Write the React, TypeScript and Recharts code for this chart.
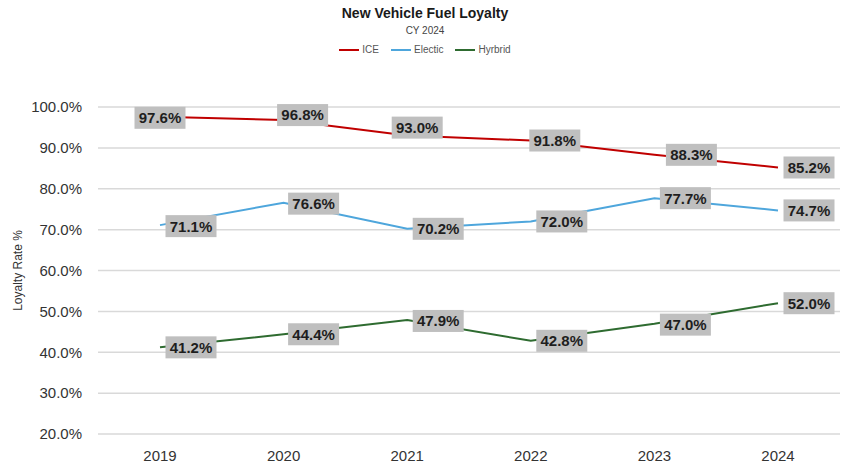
import React from 'react';
import {
  ComposedChart,
  Line,
  XAxis,
  YAxis,
  CartesianGrid,
  LabelList,
} from 'recharts';

const years = ['2019', '2020', '2021', '2022', '2023', '2024'];
const iceValues = [97.6, 96.8, 93.0, 91.8, 88.3, 85.2];
const electricValues = [71.1, 76.6, 70.2, 72.0, 77.7, 74.7];
const hybridValues = [41.2, 44.4, 47.9, 42.8, 47.0, 52.0];
const yTicks = [20, 30, 40, 50, 60, 70, 80, 90, 100];

// label box centre offsets from each point (Excel moved a few by hand)
const iceLabelOffsets = [[0, 1], [19, -5], [10, -8], [24, 0], [37, 0], [31, 0]];
const electricLabelOffsets = [[31, 1], [30, 1], [31, 0], [31, 0], [31, 0], [31, 0]];
const hybridLabelOffsets = [[31, 0], [30, 0], [31, 1], [31, 0], [31, 1], [31, 0]];

const series = [
  { key: 'ice', name: 'ICE', color: '#c00000', offsets: iceLabelOffsets },
  { key: 'electric', name: 'Electic', color: '#4ea6dc', offsets: electricLabelOffsets },
  { key: 'hybrid', name: 'Hyrbrid', color: '#2e6b30', offsets: hybridLabelOffsets },
];

const data = years.map((year, i) => ({
  year,
  ice: iceValues[i],
  electric: electricValues[i],
  hybrid: hybridValues[i],
}));

const font = '"Liberation Sans", Arial, sans-serif';

const makeLabel = (offsets: number[][]) => (props: any) => {
  const { x, y, value, index } = props;
  if (x == null || y == null) return null;
  const [dx, dy] = offsets[index] || [31, 0];
  const cx = x + dx;
  const cy = y + dy;
  const w = 51;
  const h = 22;
  return (
    <g>
      <rect x={cx - w / 2} y={cy - h / 2} width={w} height={h} fill="#bfbfbf" />
      <text
        x={cx}
        y={cy}
        dy="0.36em"
        textAnchor="middle"
        fontSize={15}
        fontWeight="bold"
        fill="#1e1e1e"
        fontFamily={font}
      >
        {`${Number(value).toFixed(1)}%`}
      </text>
    </g>
  );
};

export default function App() {
  return (
    <div style={{ position: 'absolute', left: 0, top: 0, width: 850, height: 467, background: '#fff', fontFamily: font }}>
      <div style={{ position: 'absolute', left: 0, width: 850, top: 5, textAlign: 'center', fontSize: 14, fontWeight: 'bold', color: '#1a1a1a' }}>
        New Vehicle Fuel Loyalty
      </div>
      <div style={{ position: 'absolute', left: 0, width: 850, top: 25, textAlign: 'center', fontSize: 10, color: '#444' }}>
        CY 2024
      </div>
      <div style={{ position: 'absolute', left: 0, width: 850, top: 44, display: 'flex', justifyContent: 'center', gap: 12, fontSize: 10, color: '#555' }}>
        {series.map((s) => (
          <div key={s.key} style={{ display: 'flex', alignItems: 'center', gap: 3 }}>
            <div style={{ width: 20, height: 2, background: s.color }} />
            <span>{s.name}</span>
          </div>
        ))}
      </div>
      <ComposedChart
        width={850}
        height={467}
        data={data}
        margin={{ top: 107, right: 10, left: 18, bottom: 3 }}
        style={{ position: 'absolute', left: 0, top: 0 }}
      >
        <CartesianGrid vertical={false} stroke="#d9d9d9" strokeWidth={1.5} />
        <XAxis
          dataKey="year"
          axisLine={false}
          tickLine={false}
          tickMargin={10}
          height={30}
          padding={{ left: 62, right: 62 }}
          tick={{ fill: '#333', fontSize: 15, fontFamily: font }}
        />
        <YAxis
          domain={[20, 100]}
          ticks={yTicks}
          width={80}
          axisLine={false}
          tickLine={false}
          tickMargin={10}
          tick={{ fill: '#333', fontSize: 15, fontFamily: font }}
          tickFormatter={(v) => `${Number(v).toFixed(1)}%`}
          label={{
            value: 'Loyalty Rate %',
            angle: -90,
            position: 'insideLeft',
            offset: 0,
            style: { fill: '#333', fontSize: 12, fontFamily: font, textAnchor: 'middle' },
          }}
        />
        {series.map((s) => (
          <Line
            key={s.key}
            type="linear"
            dataKey={s.key}
            name={s.name}
            stroke={s.color}
            strokeWidth={2}
            dot={false}
            activeDot={false}
            isAnimationActive={false}
          >
            <LabelList dataKey={s.key} content={makeLabel(s.offsets)} />
          </Line>
        ))}
      </ComposedChart>
    </div>
  );
}
